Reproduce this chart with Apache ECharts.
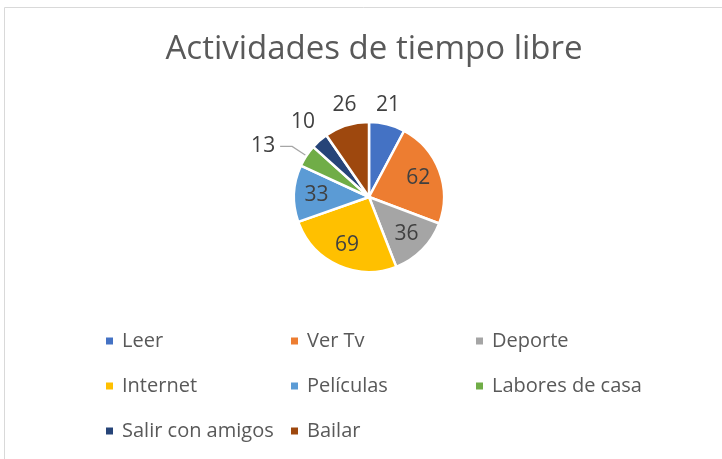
<!DOCTYPE html>
<html><head><meta charset="utf-8">
<script src="https://cdn.jsdelivr.net/npm/echarts@6/dist/echarts.min.js"></script>
<style>html,body{margin:0;padding:0;background:#fff}#c{width:722px;height:459px}</style>
</head><body><div id="c"></div>
<script>
const categories = ["Leer","Ver Tv","Deporte","Internet","Películas","Labores de casa","Salir con amigos","Bailar"];
const values = [21,62,36,69,33,13,10,26];
const colors = ["#4472C4","#ED7D31","#A5A5A5","#FFC000","#5B9BD5","#70AD47","#264478","#9E480E"];
const legendCol1 = ["Leer","Internet","Salir con amigos"];
const legendCol2 = ["Ver Tv","Películas","Bailar"];
const legendCol3 = ["Deporte","Labores de casa"];
const outside = {
  "Leer":{len:20,len2:0,line:false,dist:-16},
  "Bailar":{len:21,len2:0,line:false,dist:-16},
  "Salir con amigos":{len:25,len2:0,line:false,dist:-12},
  "Labores de casa":{len:17,len2:12,line:true,dist:5}
};
const FONT = "Open Sans";
const CX = 369, CY = 197, R = 75;
const chart = echarts.init(document.getElementById('c'));
const data = categories.map((n,i)=>{
  const o = outside[n];
  const d = {name:n, value:values[i], itemStyle:{color:colors[i]}};
  if(o){
    d.label={position:'outside',distanceToLabelLine:o.dist};
    d.labelLine={show:o.line,length:o.len,length2:o.len2,lineStyle:{color:'#A6A6A6',width:1.2}};
  }
  return d;
});
function leg(arr,left){
  return {data:arr,orient:'vertical',left:left,top:326,itemWidth:9,itemHeight:9,itemGap:25,icon:'rect',
    textStyle:{fontFamily:FONT,fontSize:20,color:'#595959',padding:[0,0,0,3]},selectedMode:false};
}
chart.setOption({
  animation:false,
  graphic:[{type:'rect',shape:{x:4.5,y:7.5,width:800,height:600},style:{fill:'none',stroke:'#D9D9D9',lineWidth:1}}],
  title:{text:'Actividades de tiempo libre',left:CX,textAlign:'center',top:28,textStyle:{fontFamily:FONT,fontSize:33,fontWeight:'normal',color:'#595959'}},
  legend:[leg(legendCol1,99),leg(legendCol2,284),leg(legendCol3,469)],
  series:[{type:'pie',center:[CX,CY],radius:[0,R],startAngle:90,clockwise:true,
    avoidLabelOverlap:false,
    itemStyle:{borderColor:'#fff',borderWidth:2.5},
    label:{position:'inside',formatter:'{c}',fontFamily:FONT,fontSize:21,color:'#404040'},
    labelLine:{show:false},
    labelLayout:function(p){
      if(outside[categories[p.dataIndex]]) return {};
      const lx = p.labelRect.x + p.labelRect.width/2, ly = p.labelRect.y + p.labelRect.height/2;
      return {dx:(lx-CX)*0.3, dy:(ly-CY)*0.3};
    },
    data:data}]
});
</script></body></html>
